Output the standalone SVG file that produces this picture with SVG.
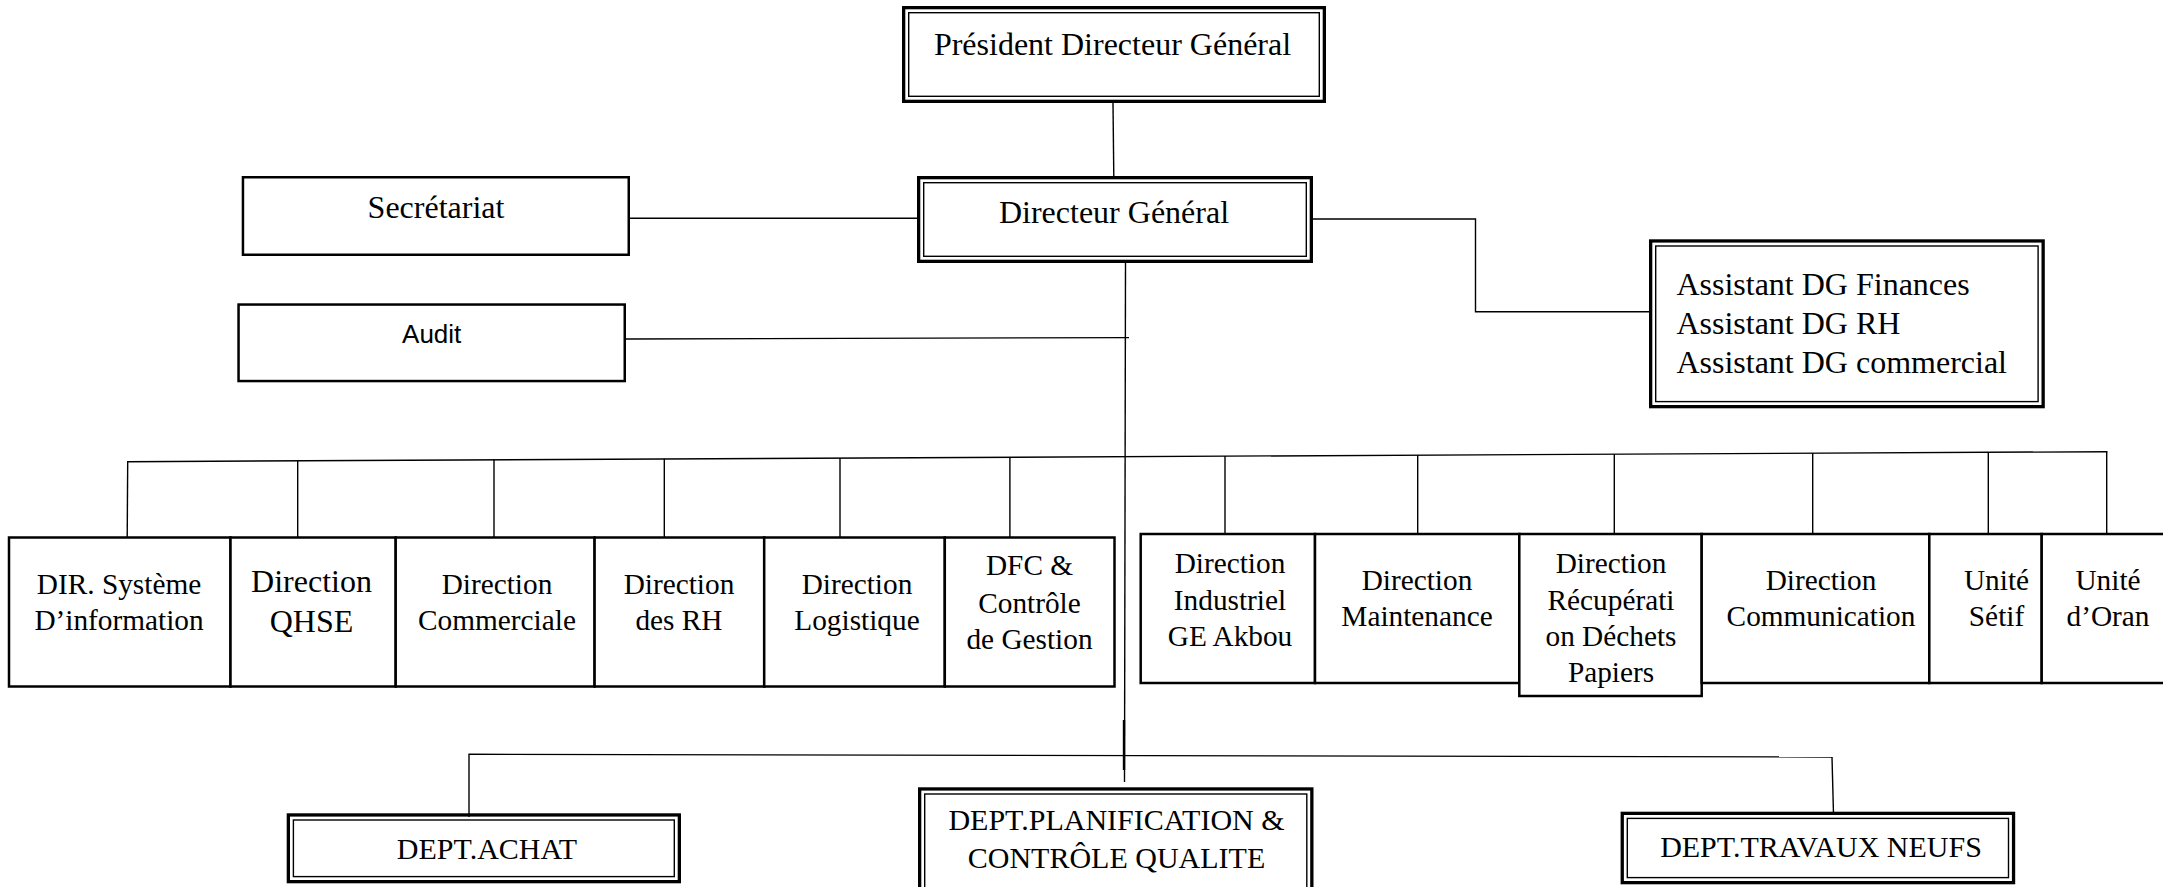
<svg xmlns="http://www.w3.org/2000/svg" width="2163" height="887" viewBox="0 0 2163 887">
<style>
  .bg { fill: #ffffff; }
  .o { fill: none; stroke: #000; stroke-width: 3.3; }
  .i { fill: none; stroke: #000; stroke-width: 1.4; }
  .s { fill: #fff; stroke: #000; stroke-width: 2.5; }
  .c { fill: none; stroke: #000; stroke-width: 1.4; }
  .t { font-family: "Liberation Serif", "Times New Roman", serif; fill: #000; text-anchor: middle; }
  .t32 { font-size: 32px; }
  .t29 { font-size: 29.3px; }
  .t30 { font-size: 30px; }
  .sans { font-family: "Liberation Sans", Arial, sans-serif; font-size: 26px; fill: #000; text-anchor: middle; }
</style>
<rect class="bg" x="0" y="0" width="2163" height="887"/>

<g id="connectors">
  <line class="c" x1="1113" y1="103" x2="1113.8" y2="177"/>
  <line class="c" x1="630" y1="218.3" x2="918" y2="218.3"/>
  <polyline class="c" points="1313,219 1475.5,219 1475.5,311.7 1649,311.7"/>
  <line class="c" x1="1125.5" y1="263" x2="1124.5" y2="782"/>
  <line class="c" x1="1124" y1="720" x2="1124" y2="770" style="stroke-width:2.4"/>
  <line class="c" x1="626" y1="339" x2="1129" y2="337.6"/>
  <line class="c" x1="127" y1="461.7" x2="2107.4" y2="451.7"/>
  <line class="c" x1="127.7" y1="461.5" x2="127.2" y2="538"/>
  <line class="c" x1="297.7" y1="460.6" x2="297.7" y2="540"/>
  <line class="c" x1="494" y1="459.6" x2="494" y2="538"/>
  <line class="c" x1="664.3" y1="458.8" x2="664.3" y2="538"/>
  <line class="c" x1="840" y1="457.9" x2="840" y2="538"/>
  <line class="c" x1="1009.9" y1="457" x2="1009.9" y2="538"/>
  <line class="c" x1="1225" y1="455.9" x2="1225" y2="534.5"/>
  <line class="c" x1="1417.7" y1="455" x2="1417.7" y2="534.5"/>
  <line class="c" x1="1614.3" y1="454" x2="1614.3" y2="534.5"/>
  <line class="c" x1="1812.7" y1="453" x2="1812.7" y2="534.5"/>
  <line class="c" x1="1988.3" y1="452.1" x2="1988.3" y2="534.5"/>
  <line class="c" x1="2106.7" y1="451.5" x2="2106.7" y2="534.5"/>
  <line class="c" x1="468.5" y1="754.3" x2="1832" y2="757"/>
  <line class="c" x1="469" y1="754.3" x2="469" y2="817"/>
  <line class="c" x1="1832" y1="757" x2="1833.5" y2="814"/>
</g>

<g id="pdg">
  <rect class="o" x="903.65" y="7.65" width="420.7" height="93.7"/>
  <rect class="i" x="908.7" y="12.7" width="410.6" height="83.6"/>
  <text class="t t32" x="1112.5" y="55">Président Directeur Général</text>
</g>

<g id="dg">
  <rect class="o" x="918.65" y="177.65" width="392.7" height="83.7"/>
  <rect class="i" x="923.7" y="182.7" width="382.6" height="73.6"/>
  <text class="t t32" x="1114" y="223">Directeur Général</text>
</g>

<g id="secretariat">
  <rect class="s" x="242.95" y="177.25" width="385.8" height="77.5"/>
  <text class="t t32" x="436" y="218.3">Secrétariat</text>
</g>

<g id="audit">
  <rect class="s" x="238.55" y="304.55" width="386.2" height="76.5"/>
  <text class="sans" x="431.7" y="342.7">Audit</text>
</g>

<g id="assistants">
  <rect class="o" x="1650.65" y="240.95" width="392.5" height="165.7"/>
  <rect class="i" x="1655.7" y="246" width="382.4" height="155.6"/>
  <text class="t t32" x="1676.4" y="295" style="text-anchor:start">Assistant DG Finances</text>
  <text class="t t32" x="1676.4" y="333.5" style="text-anchor:start">Assistant DG RH</text>
  <text class="t t32" x="1676.4" y="373.3" style="text-anchor:start">Assistant DG commercial</text>
</g>

<g id="dir-si">
  <rect class="s" x="9" y="537.5" width="221.5" height="149"/>
  <text class="t t29" x="119" y="594">DIR. Système</text>
  <text class="t t29" x="119" y="630">D’information</text>
</g>
<g id="dir-qhse">
  <rect class="s" x="230.5" y="537.5" width="165.2" height="149"/>
  <text class="t t32" x="311.5" y="591.7">Direction</text>
  <text class="t t32" x="311.5" y="631.7">QHSE</text>
</g>
<g id="dir-commerciale">
  <rect class="s" x="395.7" y="537.5" width="198.9" height="149"/>
  <text class="t t29" x="497" y="594">Direction</text>
  <text class="t t29" x="497" y="630">Commerciale</text>
</g>
<g id="dir-rh">
  <rect class="s" x="594.6" y="537.5" width="169.6" height="149"/>
  <text class="t t29" x="679" y="594">Direction</text>
  <text class="t t29" x="679" y="630">des RH</text>
</g>
<g id="dir-logistique">
  <rect class="s" x="764.2" y="537.5" width="180.6" height="149"/>
  <text class="t t29" x="857" y="594">Direction</text>
  <text class="t t29" x="857" y="630">Logistique</text>
</g>
<g id="dfc">
  <rect class="s" x="944.8" y="537.5" width="169.7" height="149"/>
  <text class="t t29" x="1029.5" y="575">DFC &amp;</text>
  <text class="t t29" x="1029.5" y="612.5">Contrôle</text>
  <text class="t t29" x="1029.5" y="648.5">de Gestion</text>
</g>

<g id="dir-industriel">
  <rect class="s" x="1140.7" y="534" width="174.3" height="149"/>
  <text class="t t29" x="1230" y="573.3">Direction</text>
  <text class="t t29" x="1230" y="609.5">Industriel</text>
  <text class="t t29" x="1230" y="646">GE Akbou</text>
</g>
<g id="dir-maintenance">
  <rect class="s" x="1315" y="534" width="204.3" height="149"/>
  <text class="t t29" x="1417" y="590">Direction</text>
  <text class="t t29" x="1417" y="626">Maintenance</text>
</g>
<g id="dir-recuperation">
  <rect class="s" x="1519.3" y="534" width="182.4" height="162"/>
  <text class="t t29" x="1611" y="573.3">Direction</text>
  <text class="t t29" x="1611" y="609.5">Récupérati</text>
  <text class="t t29" x="1611" y="646">on Déchets</text>
  <text class="t t29" x="1611" y="682">Papiers</text>
</g>
<g id="dir-communication">
  <rect class="s" x="1701.7" y="534" width="227.6" height="149"/>
  <text class="t t29" x="1821" y="590">Direction</text>
  <text class="t t29" x="1821" y="626">Communication</text>
</g>
<g id="unite-setif">
  <rect class="s" x="1929.3" y="534" width="112.4" height="149"/>
  <text class="t t29" x="1996.5" y="590">Unité</text>
  <text class="t t29" x="1996.5" y="626">Sétif</text>
</g>
<g id="unite-oran">
  <rect class="s" x="2041.7" y="534" width="135" height="149"/>
  <text class="t t29" x="2108" y="590">Unité</text>
  <text class="t t29" x="2108" y="626">d’Oran</text>
</g>

<g id="dept-achat">
  <rect class="o" x="288.35" y="814.95" width="391" height="66.7"/>
  <rect class="i" x="293.4" y="820" width="380.9" height="56.6"/>
  <text class="t t30" x="487" y="859">DEPT.ACHAT</text>
</g>
<g id="dept-planification">
  <rect class="o" x="919.65" y="788.95" width="392.2" height="110"/>
  <rect class="i" x="924.7" y="794" width="382.1" height="110"/>
  <text class="t t30" x="1116.5" y="830">DEPT.PLANIFICATION &amp;</text>
  <text class="t t30" x="1116.5" y="868">CONTRÔLE QUALITE</text>
</g>
<g id="dept-travaux">
  <rect class="o" x="1622.25" y="813.35" width="391.3" height="69.3"/>
  <rect class="i" x="1627.3" y="818.4" width="381.2" height="59.2"/>
  <text class="t t30" x="1821" y="857">DEPT.TRAVAUX NEUFS</text>
</g>
</svg>
